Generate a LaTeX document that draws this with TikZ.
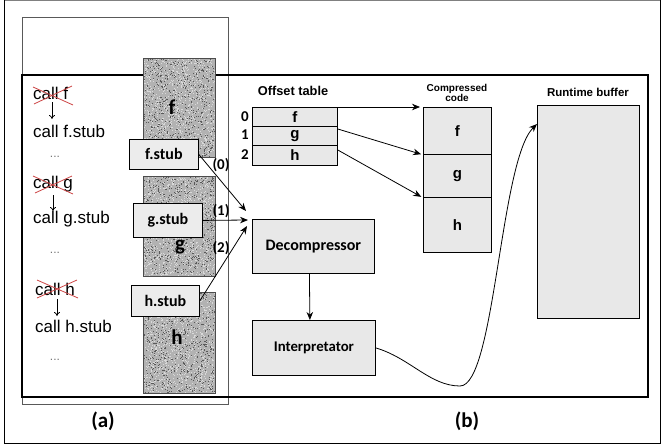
\documentclass[tikz,border=0pt]{standalone}
\usepackage{fontspec}
\setmainfont{Liberation Sans}
\newfontfamily\carl{Carlito}
\usetikzlibrary{arrows.meta,calc}
\definecolor{boxgray}{RGB}{232,232,232}
\definecolor{stubgray}{RGB}{236,236,236}
\definecolor{crossred}{RGB}{205,70,70}

% speckled block: base fill with random dark and light specks
\newcommand\speckle[4]{%
  \fill[black!30] (#1,#2) rectangle (#3,#4);
  \foreach \k in {1,...,1100}{%
    \pgfmathsetmacro\sx{#1+rnd*(#3-#1-1)}%
    \pgfmathsetmacro\sy{#2+rnd*(#4-#2-1)}%
    \fill[white!85!black] (\sx,\sy) rectangle ++(1,1);
  }
  \foreach \k in {1,...,600}{%
    \pgfmathsetmacro\tx{#1+rnd*(#3-#1-1)}%
    \pgfmathsetmacro\ty{#2+rnd*(#4-#2-1)}%
    \fill[black!65] (\tx,\ty) rectangle ++(1,1);
  }
  \draw[black!70, line width=0.6pt] (#1,#2) rectangle (#3,#4);
}

\begin{document}
\begin{tikzpicture}[x=1pt,y=-1pt,
  box/.style={draw=black, line width=0.8pt, fill=boxgray, inner sep=0pt, anchor=north west},
  stubbox/.style={draw=black, line width=0.8pt, fill=stubgray, inner sep=0pt, anchor=north west,
    font=\carl\bfseries\fontsize{16}{18}\selectfont},
  calltxt/.style={anchor=west, inner sep=0pt, font=\fontsize{17}{19}\selectfont},
  dotstxt/.style={inner sep=0pt, text=black!55, font=\fontsize{12}{14}\selectfont},
  blocklbl/.style={inner sep=0pt, font=\carl\bfseries\fontsize{21}{23}\selectfont},
  numlbl/.style={inner sep=0pt, font=\carl\bfseries\fontsize{15}{17}\selectfont},
  cellfont/.style={font=\bfseries\fontsize{15}{17}\selectfont},
  arr/.style={-{Stealth[length=8pt,width=6.5pt]}, line width=0.8pt},
  downarr/.style={-{To[length=4pt,width=6pt]}, line width=0.8pt},
  strike/.style={crossred, line width=0.8pt},
]
\useasboundingbox (0,0) rectangle (661,447);

% outer frame
\draw[black!50, line width=0.6pt] (4.5,0.6) -- (660,0.6);
\draw[black, line width=1pt] (4.5,0) -- (4.5,443) -- (660,443) -- (660,0);

% frame (a) and frame (b)
\draw[black!65, line width=0.8pt] (22,17) rectangle (228,404);
\draw[black, line width=1.3pt] (22,75) rectangle (648,397);

% speckled code blocks
\speckle{143}{58}{215}{157}
\speckle{143}{176}{215}{276}
\speckle{143}{292}{215}{393}

\node[blocklbl] (lf) at (172,107) {f};
\node[blocklbl] (lg) at (180,247) {g};
\node[blocklbl] (lh) at (177,337) {h};

% stubs
\node[stubbox, minimum width=69pt, minimum height=30pt] (fstub) at (129,139) {f.stub};
\node[stubbox, minimum width=69pt, minimum height=34pt] (gstub) at (133,203) {g.stub};
\node[stubbox, minimum width=68pt, minimum height=31pt] (hstub) at (131,285) {h.stub};

% call sites
\node[calltxt] (cf1) at (33,93) {call f};
\draw[strike] (33,87) -- (73,105);
\draw[strike] (34,104) -- (72,86);
\coordinate (af1) at (52,102); \coordinate (af2) at (52,119);
\draw[downarr] (af1) -- (af2);
\node[calltxt] (cf2) at (33,131) {call f.stub};
\node[dotstxt] (d1) at (55,157) {...};

\node[calltxt] (cg1) at (33,184) {call g};
\draw[strike] (33,176) -- (73,194);
\draw[strike] (35,193) -- (72,176);
\coordinate (ag1) at (53,195); \coordinate (ag2) at (53,211);
\draw[downarr] (ag1) -- (ag2);
\node[calltxt] (cg2) at (33,219) {call g.stub};
\node[dotstxt] (d2) at (55,253) {...};

\node[calltxt] (ch1) at (35,289) {call h};
\draw[strike] (37,280) -- (78,298);
\draw[strike] (37,298) -- (77,280);
\coordinate (ah1) at (57,299); \coordinate (ah2) at (57,316);
\draw[downarr] (ah1) -- (ah2);
\node[calltxt] (ch2) at (35,326) {call h.stub};
\node[dotstxt] (d3) at (55,360) {...};

% offset table
\node[inner sep=0pt, font=\bfseries\fontsize{12.8}{14}\selectfont] (otl) at (293,91) {Offset table};
\node[box, minimum width=85pt, minimum height=19pt, cellfont] (r0) at (252,107) {f};
\node[box, minimum width=85pt, minimum height=19pt, cellfont] (r1) at (252,126) {g};
\node[box, minimum width=85pt, minimum height=20pt, cellfont] (r2) at (252,145) {h};
\node[numlbl] (i0) at (245,117) {0};
\node[numlbl] (i1) at (245,135) {1};
\node[numlbl] (i2) at (245,155) {2};

% compressed code
\node[inner sep=0pt, align=center, font=\bfseries\fontsize{10}{10}\selectfont] (ccl) at (457,93) {Compressed\\code};
\node[box, minimum width=68pt, minimum height=47pt, cellfont] (cf) at (423,107) {f};
\node[box, minimum width=68pt, minimum height=43pt, cellfont] (cg) at (423,154) {g};
\node[box, minimum width=68pt, minimum height=55pt, cellfont] (ch) at (423,197) {h};

% runtime buffer
\node[inner sep=0pt, font=\bfseries\fontsize{11.5}{13}\selectfont] (rbl) at (588,92) {Runtime buffer};
\node[box, minimum width=102pt, minimum height=213pt] (rb) at (537,105) {};

% decompressor and interpretator
\node[box, minimum width=122pt, minimum height=54pt, font=\carl\bfseries\fontsize{16}{18}\selectfont] (dec) at (252,219) {Decompressor};
\node[box, minimum width=123pt, minimum height=55pt, font=\carl\bfseries\fontsize{14.8}{17}\selectfont] (int) at (252,320) {Interpretator};

% stub calls into the decompressor
\coordinate (tf) at (246,211);
\coordinate (tg) at (248,220);
\coordinate (th) at (247,226);
\draw[arr] (fstub.east) -- (tf);
\draw[arr] (gstub.east) -- (tg);
\draw[arr] (hstub.east) -- (th);
\node[numlbl] (n0) at (221,165) {(0)};
\node[numlbl] (n1) at (221,211) {(1)};
\node[numlbl] (n2) at (221,248) {(2)};

% offsets into compressed code
\draw[arr, shorten >=3pt] (r0.north east) -- (cf.north west);
\draw[arr, shorten >=2pt] ($(r1.north east)+(0,3)$) -- (cf.south west);
\draw[arr, shorten >=2pt] ($(r2.north east)+(0,5)$) -- (cg.south west);

% decompressor to interpretator
\draw[arr] ($(dec.south)+(-4,0)$) -- ($(int.north)+(-4,0)$);

% interpretator to runtime buffer
\coordinate (rbt) at (537,124);
\draw[arr] (int.east) .. controls (410,358) and (430,386) .. (460,386)
  .. controls (495,386) and (500,160) .. (rbt);

% captions
\node[inner sep=0pt, font=\carl\bfseries\fontsize{21}{23}\selectfont] (capa) at (103,421) {(a)};
\node[inner sep=0pt, font=\carl\bfseries\fontsize{21}{23}\selectfont] (capb) at (467,421) {(b)};
\end{tikzpicture}
\end{document}
